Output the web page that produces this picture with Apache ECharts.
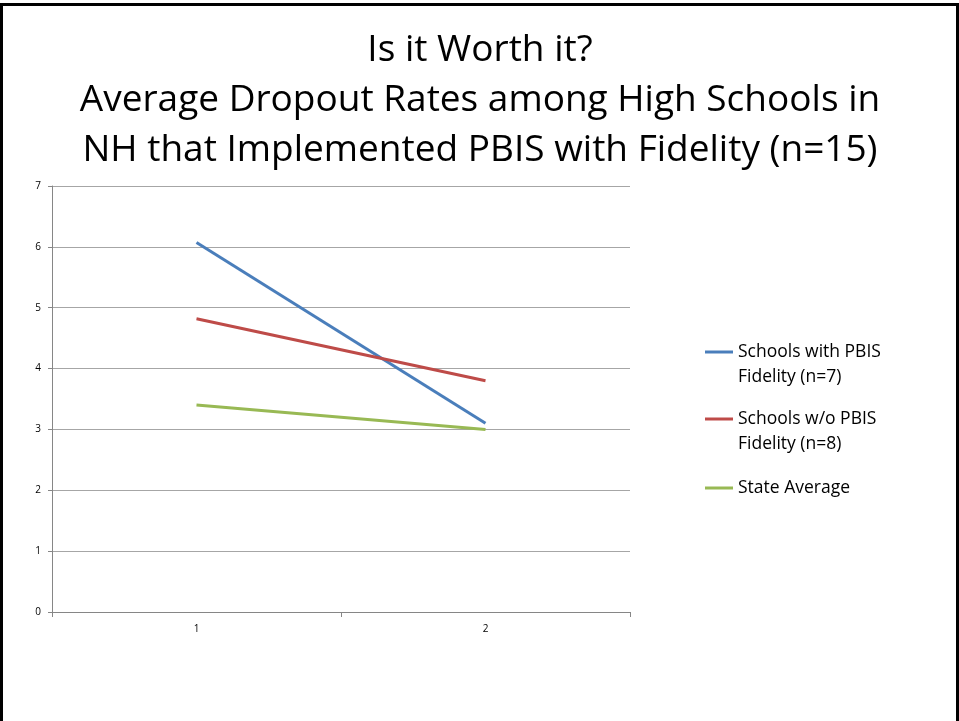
<!DOCTYPE html>
<html>
<head>
<meta charset="utf-8">
<script src="https://cdn.jsdelivr.net/npm/echarts@6/dist/echarts.min.js"></script>
<style>
  html, body { margin: 0; padding: 0; background: #fff; }
  #chart { width: 959px; height: 721px; }
</style>
</head>
<body>
<div id="chart"></div>
<script>
// Dropout rates (%) for two measurement points
const categories = ['1', '2'];
const withFidelity = [6.07, 3.1];
const withoutFidelity = [4.82, 3.8];
const stateAverage = [3.4, 3.0];
const seriesNames = [
  'Schools with PBIS\nFidelity (n=7)',
  'Schools w/o PBIS\nFidelity (n=8)',
  'State Average'
];
const yTicks = { min: 0, max: 7, interval: 1 };

const FONT = '"Open Sans", "Noto Sans", sans-serif';
const colors = ['#4a7ebb', '#be4b48', '#98b954'];
const legendLine = 25;

const chart = echarts.init(document.getElementById('chart'), null, { renderer: 'canvas' });

// One legend per series so each entry can sit at its own height;
// a blank leading line keeps the swatch level with the first text line.
function legendFor(name, iconCenter, twoLines) {
  const lines = twoLines ? 3 : 1;
  return {
    data: [name],
    formatter: twoLines ? (n) => ' \n' + n : (n) => n,
    left: 705,
    top: iconCenter - lines * legendLine / 2,
    orient: 'vertical',
    padding: 0,
    itemWidth: 28,
    itemHeight: 3,
    icon: 'rect',
    itemGap: 0,
    textStyle: { fontFamily: FONT, fontSize: 17.5, color: '#000', lineHeight: legendLine }
  };
}

chart.setOption({
  animation: false,
  backgroundColor: '#fff',
  color: colors,
  title: {
    text: 'Is it Worth it?\nAverage Dropout Rates among High Schools in\nNH that Implemented PBIS with Fidelity (n=15)',
    left: 480,
    top: 25,
    padding: 0,
    textAlign: 'center',
    textStyle: {
      fontFamily: FONT,
      fontWeight: 'normal',
      fontSize: 37,
      lineHeight: 50,
      color: '#000'
    }
  },
  graphic: [{
    type: 'rect',
    shape: { x: 1.5, y: 4.5, width: 956, height: 720 },
    style: { fill: 'none', stroke: '#000', lineWidth: 3 },
    silent: true
  }],
  legend: [
    legendFor(seriesNames[0], 352, true),
    legendFor(seriesNames[1], 419, true),
    legendFor(seriesNames[2], 488, false)
  ],
  grid: { left: 52, right: 329, top: 186, bottom: 109, containLabel: false },
  xAxis: {
    type: 'category',
    data: categories,
    boundaryGap: true,
    axisLine: { lineStyle: { color: '#868686', width: 1 } },
    axisTick: { show: true, length: 5, interval: 0, lineStyle: { color: '#868686' } },
    axisLabel: { fontFamily: FONT, fontSize: 10, color: '#000', margin: 12 },
    splitLine: { show: false }
  },
  yAxis: {
    type: 'value',
    min: yTicks.min,
    max: yTicks.max,
    interval: yTicks.interval,
    axisLine: { show: true, lineStyle: { color: '#868686', width: 1 } },
    axisTick: { show: true, length: 4, lineStyle: { color: '#868686' } },
    axisLabel: { fontFamily: FONT, fontSize: 10, color: '#000', margin: 11 },
    splitLine: { show: true, lineStyle: { color: '#a6a6a6', width: 1 } }
  },
  series: [
    { name: seriesNames[0], type: 'line', data: withFidelity, showSymbol: false, symbol: 'none', lineStyle: { width: 3 } },
    { name: seriesNames[1], type: 'line', data: withoutFidelity, showSymbol: false, symbol: 'none', lineStyle: { width: 3 } },
    { name: seriesNames[2], type: 'line', data: stateAverage, showSymbol: false, symbol: 'none', lineStyle: { width: 3 } }
  ]
});
</script>
</body>
</html>
